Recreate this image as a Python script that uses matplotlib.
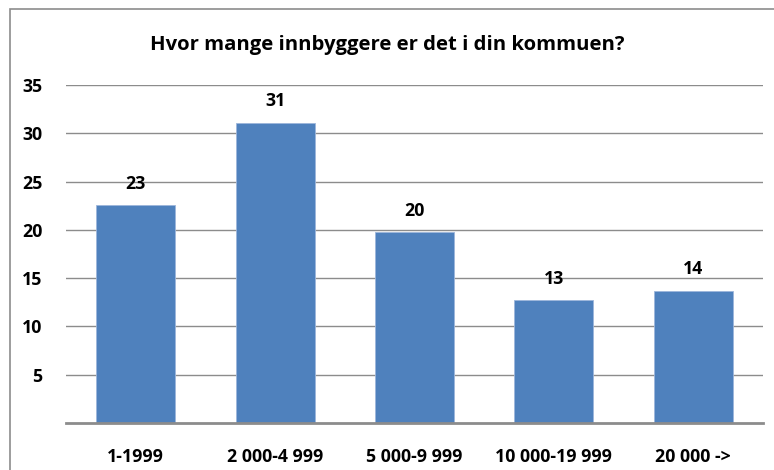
import matplotlib
matplotlib.use('Agg')
from matplotlib import pyplot as plt
from matplotlib.patches import Rectangle

categories = ['1-1999', '2 000-4 999', '5 000-9 999', '10 000-19 999', '20 000 ->']
values = [22.6, 31.1, 19.75, 12.7, 13.7]
yticks = [5, 10, 15, 20, 25, 30, 35]

plt.rcParams['font.family'] = ['Open Sans', 'DejaVu Sans']
plt.rcParams['font.weight'] = 'bold'

figure = plt.figure(figsize=(7.74, 4.70), dpi=100)
# outer chart frame (runs off right and bottom edge)
figure.patches.append(Rectangle((10 / 774, -0.1), 1.2, 1 - 9 / 470 + 0.1,
                                transform=figure.transFigure, fill=False,
                                edgecolor='#8c8c8c', linewidth=1.2))
ax = figure.add_axes([66 / 774, 1 - 423 / 470, (763 - 66) / 774, (423 - 85) / 470])

x = range(len(categories))
bars = ax.bar(x, values, width=0.567, color='#4F81BD', edgecolor='#9DB6DB', linewidth=0.6, zorder=3)
for xi, v in zip(x, values):
    ax.text(xi, v + 2.2, f'{round(v):d}', ha='center', va='center', fontsize=12.8,
            fontweight='bold', zorder=4)

ax.set_xlim(-0.5, len(categories) - 0.5)
ax.set_ylim(0, 35)
ax.set_yticks(yticks)
ax.set_yticklabels([str(t) for t in yticks])
ax.set_xticks(list(x))
ax.set_xticklabels(categories)
ax.grid(axis='y', color='#8c8c8c', linewidth=1.0, zorder=0)
ax.tick_params(axis='y', length=0, pad=17, labelsize=12.8)
ax.tick_params(axis='x', length=0, pad=18, labelsize=12.8)
for lab in ax.get_xticklabels() + ax.get_yticklabels():
    lab.set_fontweight('bold')
for s in ['left', 'right', 'top']:
    ax.spines[s].set_visible(False)
ax.spines['bottom'].set_color('#8c8c8c')
ax.spines['bottom'].set_linewidth(2)
ax.spines['bottom'].set_zorder(5)

figure.text(387 / 774, 1 - 45 / 470, 'Hvor mange innbyggere er det i din kommuen?',
            ha='center', va='center', fontsize=14.6, fontweight='bold')

plt.savefig('out.png', dpi=100)
